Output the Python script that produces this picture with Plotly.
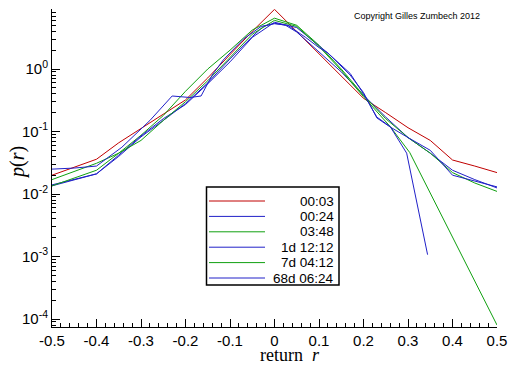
import plotly.graph_objects as go

# ---------------- data ----------------
names = ["00:03", "00:24", "03:48", "1d 12:12", "7d 04:12", "68d 06:24"]
colors = ["#c00000", "#2020c8", "#10a010", "#2020c8", "#10a010", "#2020c8"]

r_0003 = [-0.5, -0.45, -0.4, -0.35, -0.3, -0.25, -0.2, -0.15, -0.1, -0.05, 0, 0.05, 0.1, 0.15, 0.2, 0.25, 0.3, 0.35, 0.4, 0.45, 0.5]
p_0003 = [0.020, 0.027, 0.036, 0.066, 0.112, 0.19, 0.32, 0.72, 1.7, 4.0, 9.0, 4.0, 1.75, 0.78, 0.34, 0.20, 0.115, 0.072, 0.035, 0.028, 0.022]

r_0024 = [-0.5, -0.4, -0.35, -0.3, -0.25, -0.2, -0.15, -0.1, -0.05, -0.025, 0, 0.025, 0.05, 0.1, 0.15, 0.2, 0.25, 0.3, 0.35, 0.4, 0.45, 0.5]
p_0024 = [0.014, 0.021, 0.040, 0.082, 0.15, 0.28, 0.60, 1.45, 3.3, 4.8, 5.4, 5.0, 3.9, 1.9, 0.9, 0.38, 0.17, 0.08, 0.045, 0.024, 0.017, 0.0125]

r_0348 = [-0.5, -0.4, -0.35, -0.3, -0.25, -0.2, -0.15, -0.1, -0.05, 0, 0.05, 0.1, 0.15, 0.2, 0.25, 0.3, 0.35, 0.4, 0.45, 0.5]
p_0348 = [0.017, 0.031, 0.045, 0.087, 0.18, 0.44, 1.0, 2.0, 4.2, 6.5, 5.0, 2.4, 1.0, 0.38, 0.16, 0.08, 0.045, 0.022, 0.015, 0.011]

r_1d = [-0.5, -0.4, -0.35, -0.3, -0.25, -0.2, -0.15, -0.1, -0.05, 0, 0.05, 0.1, 0.12, 0.17, 0.2, 0.23, 0.26, 0.3, 0.35, 0.4, 0.45, 0.5]
p_1d = [0.0135, 0.021, 0.042, 0.085, 0.16, 0.27, 0.58, 1.3, 3.2, 5.6, 4.6, 2.4, 1.8, 0.8, 0.42, 0.165, 0.118, 0.08, 0.05, 0.02, 0.016, 0.013]

r_7d = [-0.5, -0.4, -0.35, -0.3, -0.25, -0.2, -0.15, -0.1, -0.05, 0, 0.05, 0.1, 0.15, 0.2, 0.26, 0.304, 0.5]
p_7d = [0.0135, 0.024, 0.045, 0.072, 0.15, 0.30, 0.65, 1.5, 3.6, 6.0, 4.8, 2.3, 0.95, 0.36, 0.12, 0.046, 0.00008]

r_68d = [-0.5, -0.45, -0.4, -0.343, -0.28, -0.23, -0.19, -0.165, -0.14, -0.115, -0.07, -0.03, 0, 0.03, 0.07, 0.1, 0.12, 0.17, 0.2, 0.23, 0.26, 0.297, 0.344]
p_68d = [0.025, 0.026, 0.028, 0.056, 0.15, 0.37, 0.35, 0.37, 0.8, 1.4, 3.0, 4.8, 5.3, 5.0, 3.2, 2.2, 1.8, 0.85, 0.4, 0.17, 0.12, 0.045, 0.00107]

series_r = [r_0003, r_0024, r_0348, r_1d, r_7d, r_68d]
series_p = [p_0003, p_0024, p_0348, p_1d, p_7d, p_68d]

x_ticks = [-0.5, -0.4, -0.3, -0.2, -0.1, 0, 0.1, 0.2, 0.3, 0.4, 0.5]
x_ticktext = ["-0.5", "-0.4", "-0.3", "-0.2", "-0.1", "0", "0.1", "0.2", "0.3", "0.4", "0.5"]
y_ticks = [1e-4, 1e-3, 1e-2, 1e-1, 1]
y_ticktext = ["10<sup>-4</sup>", "10<sup>-3</sup>", "10<sup>-2</sup>", "10<sup>-1</sup>", "10<sup>0</sup>"]
y_minor = [m * d for d in [1e-5, 1e-4, 1e-3, 1e-2, 1e-1, 1] for m in range(2, 10)]

# ---------------- figure ----------------
fig = go.Figure()
for rr, pp, nm, col in zip(series_r, series_p, names, colors):
    fig.add_trace(go.Scatter(x=rr, y=pp, mode="lines", name=nm,
                             line=dict(color=col, width=1), showlegend=False))

sans = "Liberation Sans, Arial, sans-serif"
serif = "Liberation Serif, Times New Roman, serif"
axis_font = dict(family=sans, size=15, color="black")
L, R, T, B = 52, 15, 9, 39
fig.update_layout(
    width=512, height=366,
    margin=dict(l=L, r=R, t=T, b=B),
    paper_bgcolor="white", plot_bgcolor="white",
    font=axis_font,
    xaxis=dict(range=[-0.5, 0.5], showgrid=False, zeroline=False, automargin=False,
               showline=True, linecolor="black", linewidth=1,
               ticks="inside", ticklen=8, tickcolor="black",
               tickvals=x_ticks, ticktext=x_ticktext, tickfont=axis_font,
               minor=dict(ticks="inside", dtick=0.02, ticklen=4, tickcolor="black", showgrid=False)),
    yaxis=dict(type="log", range=[-4.128, 0.96], showgrid=False, zeroline=False, automargin=False,
               showline=True, linecolor="black", linewidth=1,
               ticks="inside", ticklen=8, tickcolor="black",
               tickvals=y_ticks, ticktext=y_ticktext, tickfont=axis_font,
               minor=dict(ticks="inside", tickvals=y_minor, ticklen=4, tickcolor="black", showgrid=False)),
)

plot_w, plot_h = 512 - L - R, 366 - T - B
def px2x(px):
    return (px - L) / plot_w
def py2y(py):
    return 1 - (py - T) / plot_h

# axis titles
fig.add_annotation(text="return  <i>r</i>", xref="paper", yref="paper",
                   x=px2x(290), y=py2y(355), xanchor="center", yanchor="middle", showarrow=False,
                   font=dict(family=serif, size=18, color="black"))
fig.add_annotation(text="<i>p</i>(<i>r</i>)", xref="paper", yref="paper",
                   x=px2x(17), y=py2y(163), xanchor="center", yanchor="middle", showarrow=False,
                   textangle=-90, font=dict(family=serif, size=20, color="black"))

# copyright note
fig.add_annotation(text="Copyright Gilles Zumbech 2012", xref="paper", yref="paper",
                   x=px2x(482), y=py2y(16), xanchor="right", yanchor="middle", showarrow=False,
                   font=dict(family=sans, size=9, color="black"))

# legend box (drawn in paper coordinates)
fig.add_shape(type="rect", xref="paper", yref="paper",
              x0=px2x(206.5), x1=px2x(339), y0=py2y(285), y1=py2y(187),
              line=dict(color="black", width=1.5), fillcolor="white", layer="above")
for i, (nm, col) in enumerate(zip(names, colors)):
    yy = 201 + i * 15.4
    fig.add_shape(type="line", xref="paper", yref="paper",
                  x0=px2x(209), x1=px2x(265), y0=py2y(yy), y1=py2y(yy),
                  line=dict(color=col, width=1), layer="above")
    fig.add_annotation(text=nm, xref="paper", yref="paper",
                       x=px2x(336), y=py2y(yy), xanchor="right", yanchor="middle",
                       showarrow=False,
                       font=dict(family=sans, size=13.5, color="black"))

fig.write_html("out.html", config={"displayModeBar": False},
               post_script="document.body.style.margin='0';document.body.style.padding='0';")
